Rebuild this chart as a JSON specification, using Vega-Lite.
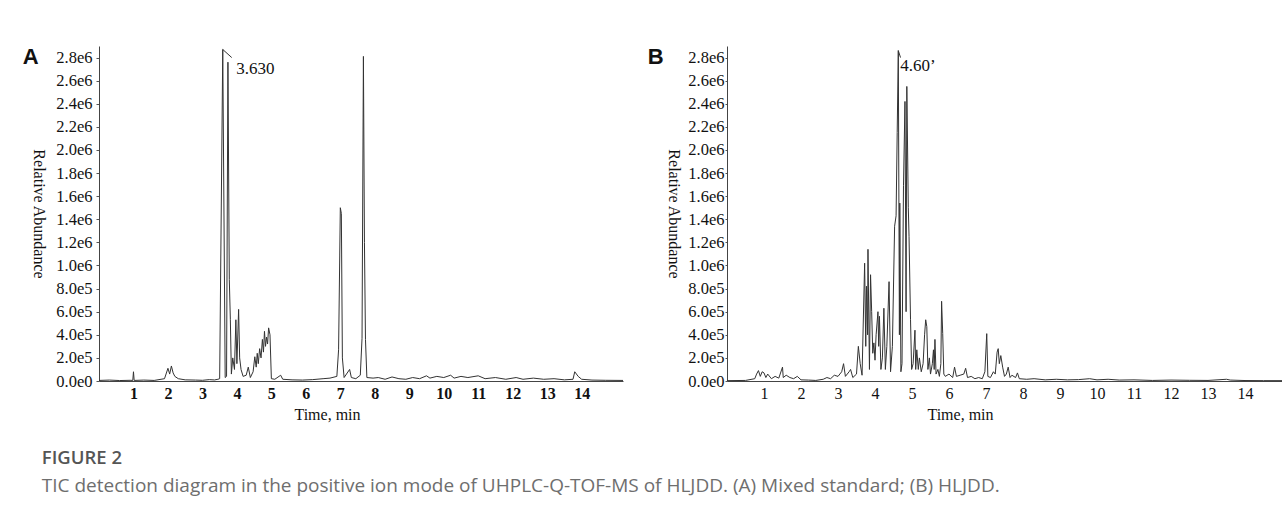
{
  "$schema": "https://vega.github.io/schema/vega-lite/v6.json",
  "background": "white",
  "padding": {"left": 22, "top": 46, "right": 0, "bottom": 0},
  "datasets": {
    "traceA": [
      {"t": 0.0, "v": 5000}, {"t": 0.3, "v": 8000}, {"t": 0.6, "v": 4000}, {"t": 0.9, "v": 6000},
      {"t": 0.98, "v": 5000}, {"t": 1.0, "v": 80000}, {"t": 1.02, "v": 5000}, {"t": 1.3, "v": 8000},
      {"t": 1.6, "v": 5000}, {"t": 1.9, "v": 20000}, {"t": 2.0, "v": 110000}, {"t": 2.05, "v": 60000},
      {"t": 2.1, "v": 130000}, {"t": 2.15, "v": 70000}, {"t": 2.2, "v": 40000}, {"t": 2.3, "v": 20000},
      {"t": 2.5, "v": 10000}, {"t": 2.8, "v": 8000}, {"t": 3.0, "v": 6000}, {"t": 3.2, "v": 12000},
      {"t": 3.35, "v": 9000}, {"t": 3.45, "v": 15000}, {"t": 3.5, "v": 20000}, {"t": 3.59, "v": 2870000},
      {"t": 3.66, "v": 30000}, {"t": 3.7, "v": 40000}, {"t": 3.74, "v": 2760000}, {"t": 3.78, "v": 880000},
      {"t": 3.81, "v": 530000}, {"t": 3.84, "v": 60000}, {"t": 3.88, "v": 200000}, {"t": 3.93, "v": 100000},
      {"t": 3.97, "v": 530000}, {"t": 4.0, "v": 150000}, {"t": 4.05, "v": 620000}, {"t": 4.08, "v": 200000},
      {"t": 4.12, "v": 100000}, {"t": 4.18, "v": 40000}, {"t": 4.27, "v": 50000}, {"t": 4.33, "v": 120000},
      {"t": 4.39, "v": 30000}, {"t": 4.47, "v": 80000}, {"t": 4.52, "v": 210000}, {"t": 4.56, "v": 120000},
      {"t": 4.59, "v": 240000}, {"t": 4.62, "v": 150000}, {"t": 4.66, "v": 280000}, {"t": 4.7, "v": 200000},
      {"t": 4.74, "v": 360000}, {"t": 4.77, "v": 250000}, {"t": 4.8, "v": 430000}, {"t": 4.83, "v": 300000},
      {"t": 4.86, "v": 380000}, {"t": 4.89, "v": 320000}, {"t": 4.92, "v": 460000}, {"t": 4.96, "v": 400000},
      {"t": 5.0, "v": 20000}, {"t": 5.1, "v": 15000}, {"t": 5.27, "v": 50000}, {"t": 5.33, "v": 15000},
      {"t": 5.6, "v": 10000}, {"t": 5.9, "v": 8000}, {"t": 6.2, "v": 12000}, {"t": 6.5, "v": 20000},
      {"t": 6.7, "v": 25000}, {"t": 6.9, "v": 40000}, {"t": 6.95, "v": 270000}, {"t": 7.0, "v": 1500000},
      {"t": 7.03, "v": 1450000}, {"t": 7.06, "v": 200000}, {"t": 7.11, "v": 30000}, {"t": 7.27, "v": 100000},
      {"t": 7.32, "v": 30000}, {"t": 7.45, "v": 20000}, {"t": 7.58, "v": 50000}, {"t": 7.63, "v": 370000},
      {"t": 7.67, "v": 2810000}, {"t": 7.7, "v": 1200000}, {"t": 7.73, "v": 360000}, {"t": 7.77, "v": 30000},
      {"t": 7.95, "v": 25000}, {"t": 8.1, "v": 30000}, {"t": 8.3, "v": 15000}, {"t": 8.5, "v": 35000},
      {"t": 8.7, "v": 20000}, {"t": 8.9, "v": 15000}, {"t": 9.1, "v": 30000}, {"t": 9.3, "v": 20000},
      {"t": 9.5, "v": 45000}, {"t": 9.6, "v": 25000}, {"t": 9.8, "v": 40000}, {"t": 10.0, "v": 30000},
      {"t": 10.2, "v": 50000}, {"t": 10.3, "v": 25000}, {"t": 10.5, "v": 40000}, {"t": 10.7, "v": 30000},
      {"t": 11.0, "v": 45000}, {"t": 11.2, "v": 20000}, {"t": 11.5, "v": 30000}, {"t": 11.8, "v": 15000},
      {"t": 12.1, "v": 30000}, {"t": 12.3, "v": 15000}, {"t": 12.6, "v": 25000}, {"t": 12.9, "v": 15000},
      {"t": 13.2, "v": 20000}, {"t": 13.5, "v": 10000}, {"t": 13.75, "v": 15000}, {"t": 13.8, "v": 80000},
      {"t": 13.9, "v": 40000}, {"t": 14.0, "v": 15000}, {"t": 14.3, "v": 8000}, {"t": 14.7, "v": 6000},
      {"t": 15.2, "v": 5000}
    ],
    "traceB": [
      {"t": 0.0, "v": 3000}, {"t": 0.5, "v": 5000}, {"t": 0.75, "v": 20000}, {"t": 0.8, "v": 60000},
      {"t": 0.85, "v": 90000}, {"t": 0.9, "v": 40000}, {"t": 0.95, "v": 80000}, {"t": 1.0, "v": 70000},
      {"t": 1.05, "v": 30000}, {"t": 1.1, "v": 60000}, {"t": 1.2, "v": 20000}, {"t": 1.3, "v": 40000},
      {"t": 1.4, "v": 25000}, {"t": 1.5, "v": 120000}, {"t": 1.52, "v": 30000}, {"t": 1.6, "v": 50000},
      {"t": 1.7, "v": 30000}, {"t": 1.8, "v": 20000}, {"t": 1.9, "v": 40000}, {"t": 2.0, "v": 10000},
      {"t": 2.2, "v": 8000}, {"t": 2.4, "v": 5000}, {"t": 2.6, "v": 15000}, {"t": 2.7, "v": 30000},
      {"t": 2.8, "v": 20000}, {"t": 2.9, "v": 50000}, {"t": 3.0, "v": 40000}, {"t": 3.1, "v": 80000},
      {"t": 3.15, "v": 150000}, {"t": 3.2, "v": 40000}, {"t": 3.3, "v": 80000}, {"t": 3.34, "v": 100000},
      {"t": 3.4, "v": 30000}, {"t": 3.5, "v": 60000}, {"t": 3.55, "v": 300000}, {"t": 3.6, "v": 150000},
      {"t": 3.65, "v": 50000}, {"t": 3.72, "v": 1020000}, {"t": 3.75, "v": 300000}, {"t": 3.77, "v": 820000},
      {"t": 3.8, "v": 400000}, {"t": 3.81, "v": 1140000}, {"t": 3.85, "v": 100000}, {"t": 3.88, "v": 920000},
      {"t": 3.91, "v": 600000}, {"t": 3.94, "v": 240000}, {"t": 3.97, "v": 330000}, {"t": 4.0, "v": 180000},
      {"t": 4.03, "v": 400000}, {"t": 4.08, "v": 600000}, {"t": 4.1, "v": 300000}, {"t": 4.12, "v": 560000},
      {"t": 4.16, "v": 100000}, {"t": 4.2, "v": 200000}, {"t": 4.24, "v": 630000}, {"t": 4.28, "v": 100000},
      {"t": 4.32, "v": 300000}, {"t": 4.38, "v": 860000}, {"t": 4.42, "v": 80000}, {"t": 4.47, "v": 300000},
      {"t": 4.53, "v": 1340000}, {"t": 4.57, "v": 1430000}, {"t": 4.6, "v": 2150000}, {"t": 4.63, "v": 2860000},
      {"t": 4.66, "v": 400000}, {"t": 4.67, "v": 1540000}, {"t": 4.7, "v": 80000}, {"t": 4.73, "v": 150000},
      {"t": 4.77, "v": 1690000}, {"t": 4.81, "v": 2420000}, {"t": 4.84, "v": 600000}, {"t": 4.86, "v": 2550000},
      {"t": 4.9, "v": 1500000}, {"t": 4.92, "v": 1250000}, {"t": 4.96, "v": 530000}, {"t": 4.99, "v": 100000},
      {"t": 5.03, "v": 150000}, {"t": 5.08, "v": 440000}, {"t": 5.1, "v": 100000}, {"t": 5.13, "v": 270000},
      {"t": 5.17, "v": 100000}, {"t": 5.2, "v": 200000}, {"t": 5.25, "v": 80000}, {"t": 5.3, "v": 150000},
      {"t": 5.34, "v": 400000}, {"t": 5.37, "v": 530000}, {"t": 5.4, "v": 470000}, {"t": 5.43, "v": 100000},
      {"t": 5.47, "v": 200000}, {"t": 5.5, "v": 60000}, {"t": 5.55, "v": 150000}, {"t": 5.58, "v": 270000},
      {"t": 5.6, "v": 100000}, {"t": 5.62, "v": 360000}, {"t": 5.65, "v": 60000}, {"t": 5.7, "v": 100000},
      {"t": 5.74, "v": 40000}, {"t": 5.78, "v": 150000}, {"t": 5.8, "v": 690000}, {"t": 5.83, "v": 410000},
      {"t": 5.86, "v": 60000}, {"t": 5.9, "v": 40000}, {"t": 6.0, "v": 60000}, {"t": 6.1, "v": 30000},
      {"t": 6.15, "v": 120000}, {"t": 6.2, "v": 40000}, {"t": 6.3, "v": 50000}, {"t": 6.4, "v": 60000},
      {"t": 6.45, "v": 110000}, {"t": 6.5, "v": 30000}, {"t": 6.6, "v": 40000}, {"t": 6.7, "v": 20000},
      {"t": 6.8, "v": 30000}, {"t": 6.9, "v": 20000}, {"t": 6.97, "v": 80000}, {"t": 7.02, "v": 410000},
      {"t": 7.05, "v": 40000}, {"t": 7.12, "v": 30000}, {"t": 7.2, "v": 80000}, {"t": 7.25, "v": 60000},
      {"t": 7.3, "v": 250000}, {"t": 7.33, "v": 280000}, {"t": 7.36, "v": 150000}, {"t": 7.4, "v": 220000},
      {"t": 7.45, "v": 120000}, {"t": 7.5, "v": 40000}, {"t": 7.55, "v": 60000}, {"t": 7.6, "v": 120000},
      {"t": 7.65, "v": 30000}, {"t": 7.7, "v": 50000}, {"t": 7.8, "v": 30000}, {"t": 7.85, "v": 70000},
      {"t": 7.9, "v": 20000}, {"t": 8.1, "v": 15000}, {"t": 8.3, "v": 20000}, {"t": 8.6, "v": 10000},
      {"t": 8.9, "v": 15000}, {"t": 9.2, "v": 10000}, {"t": 9.5, "v": 12000}, {"t": 9.8, "v": 20000},
      {"t": 10.0, "v": 10000}, {"t": 10.3, "v": 15000}, {"t": 10.6, "v": 8000}, {"t": 11.0, "v": 10000},
      {"t": 11.5, "v": 5000}, {"t": 12.0, "v": 8000}, {"t": 12.5, "v": 6000}, {"t": 13.0, "v": 5000},
      {"t": 13.5, "v": 15000}, {"t": 13.6, "v": 8000}, {"t": 14.0, "v": 4000}, {"t": 14.5, "v": 3000},
      {"t": 15.0, "v": 3000}
    ],
    "flagA": [{"t": 3.59, "v": 2870000}, {"t": 3.85, "v": 2800000}],
    "flagB": [{"t": 4.63, "v": 2860000}, {"t": 4.69, "v": 2800000}],
    "labelA": [{"t": 3.98, "v": 2700000, "label": "3.630"}],
    "labelB": [{"t": 4.68, "v": 2730000, "label": "4.60\u2019"}]
  },
  "title": {
    "text": "FIGURE 2",
    "subtitle": "TIC detection diagram in the positive ion mode of UHPLC-Q-TOF-MS of HLJDD. (A) Mixed standard; (B) HLJDD.",
    "orient": "bottom",
    "anchor": "start",
    "offset": 27,
    "dx": 19,
    "font": "Open Sans",
    "fontSize": 18.5,
    "fontWeight": 600,
    "color": "#555555",
    "subtitleFont": "Open Sans",
    "subtitleFontSize": 19,
    "subtitleColor": "#6e6e6e",
    "subtitlePadding": 9
  },
  "spacing": 22,
  "hconcat": [
    {
      "width": 524,
      "height": 335,
      "title": {"text": "A", "anchor": "start", "frame": "bounds", "font": "Liberation Sans", "fontWeight": "bold", "fontSize": 22, "color": "#111111", "offset": -23, "dx": -8},
      "layer": [
        {
          "data": {"name": "traceA"},
          "mark": {"type": "line", "color": "#333333", "strokeWidth": 1},
          "encoding": {
            "x": {"field": "t", "type": "quantitative", "scale": {"domain": [0, 15.2], "nice": false},
              "axis": {"values": [1,2,3,4,5,6,7,8,9,10,11,12,13,14], "tickCount": 30, "format": "d", "title": "Time, min", "labelFontWeight": "bold", "labelOverlap": false, "titleX": 228, "titleAlign": "center"}},
            "y": {"field": "v", "type": "quantitative", "scale": {"domain": [0, 2900000], "nice": false},
              "axis": {"values": [0,200000,400000,600000,800000,1000000,1200000,1400000,1600000,1800000,2000000,2200000,2400000,2600000,2800000], "tickCount": 30,
                "labelExpr": "replace(format(datum.value, '.1e'), '+', '')", "title": "Relative Abundance", "labelOverlap": false,
                "tickSize": 3, "labelPadding": 4, "titlePadding": 9}}
          }
        },
        {
          "data": {"name": "flagA"},
          "mark": {"type": "line", "color": "#333333", "strokeWidth": 1},
          "encoding": {"x": {"field": "t", "type": "quantitative"}, "y": {"field": "v", "type": "quantitative"}}
        },
        {
          "data": {"name": "labelA"},
          "mark": {"type": "text", "align": "left", "baseline": "middle", "font": "Liberation Serif", "fontSize": 17, "color": "#111111"},
          "encoding": {"x": {"field": "t", "type": "quantitative"}, "y": {"field": "v", "type": "quantitative"}, "text": {"field": "label"}}
        }
      ]
    },
    {
      "width": 555,
      "height": 335,
      "title": {"text": "B", "anchor": "start", "frame": "bounds", "font": "Liberation Sans", "fontWeight": "bold", "fontSize": 22, "color": "#111111", "offset": -23, "dx": -18},
      "layer": [
        {
          "data": {"name": "traceB"},
          "mark": {"type": "line", "color": "#333333", "strokeWidth": 1},
          "encoding": {
            "x": {"field": "t", "type": "quantitative", "scale": {"domain": [0, 15], "nice": false},
              "axis": {"values": [1,2,3,4,5,6,7,8,9,10,11,12,13,14], "tickCount": 30, "format": "d", "title": "Time, min", "labelOverlap": false, "titleX": 233, "titleAlign": "center"}},
            "y": {"field": "v", "type": "quantitative", "scale": {"domain": [0, 2900000], "nice": false},
              "axis": {"values": [0,200000,400000,600000,800000,1000000,1200000,1400000,1600000,1800000,2000000,2200000,2400000,2600000,2800000], "tickCount": 30,
                "labelExpr": "replace(format(datum.value, '.1e'), '+', '')", "title": "Relative Abundance", "labelOverlap": false,
                "tickSize": 2, "labelPadding": 1, "titlePadding": 6}}
          }
        },
        {
          "data": {"name": "flagB"},
          "mark": {"type": "line", "color": "#333333", "strokeWidth": 1},
          "encoding": {"x": {"field": "t", "type": "quantitative"}, "y": {"field": "v", "type": "quantitative"}}
        },
        {
          "data": {"name": "labelB"},
          "mark": {"type": "text", "align": "left", "baseline": "middle", "font": "Liberation Serif", "fontSize": 17, "color": "#111111"},
          "encoding": {"x": {"field": "t", "type": "quantitative"}, "y": {"field": "v", "type": "quantitative"}, "text": {"field": "label"}}
        }
      ]
    }
  ],
  "config": {
    "view": {"stroke": null},
    "axis": {
      "grid": false,
      "labelFont": "Liberation Serif",
      "labelFontSize": 16.5,
      "labelColor": "#111111",
      "titleFont": "Liberation Serif",
      "titleFontSize": 16,
      "titleFontWeight": "normal",
      "titleColor": "#111111",
      "domainColor": "#444444",
      "tickColor": "#555555"
    },
    "axisX": {"tickSize": 0, "labelPadding": 4, "titlePadding": 5, "labelAngle": 0, "labelFontSize": 16},
    "axisY": {"titleAngle": 90, "titleBaseline": "top"}
  }
}
